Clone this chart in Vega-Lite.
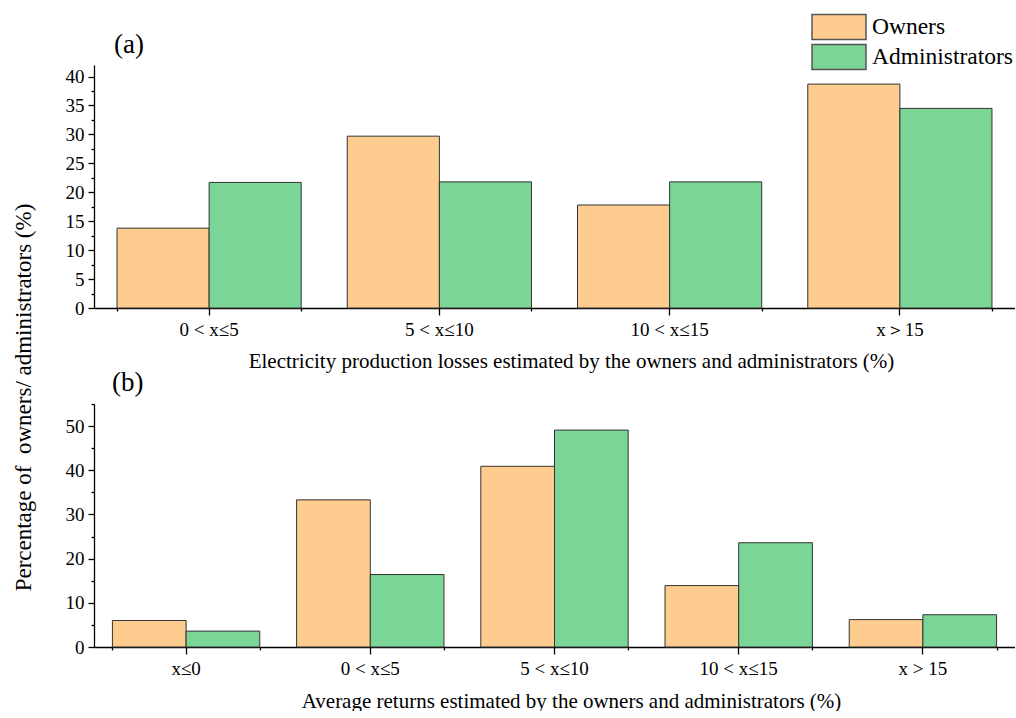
{
  "$schema": "https://vega.github.io/schema/vega-lite/v6.json",
  "background": "white",
  "padding": {"left": 12, "top": 12, "right": 0, "bottom": 0},
  "bounds": "flush",
  "spacing": 96,
  "config": {"view": {"stroke": null}, "font": "Liberation Serif"},
  "resolve": {"scale": {"xOffset": "independent", "x": "independent", "y": "independent"}},
  "vconcat": [
    {
      "width": 921,
      "height": 243,
      "title": {"text": "(a)", "anchor": "start", "frame": "group", "dx": 20, "offset": 6, "fontSize": 27, "font": "Liberation Serif", "fontWeight": "normal", "color": "#000"},
      "data": {"values": [
        {"range": "0 < x≤5", "group": "Owners", "value": 13.8},
        {"range": "0 < x≤5", "group": "Administrators", "value": 21.7},
        {"range": "5 < x≤10", "group": "Owners", "value": 29.7},
        {"range": "5 < x≤10", "group": "Administrators", "value": 21.8},
        {"range": "10 < x≤15", "group": "Owners", "value": 17.8},
        {"range": "10 < x≤15", "group": "Administrators", "value": 21.8},
        {"range": "x＞15", "group": "Owners", "value": 38.7},
        {"range": "x＞15", "group": "Administrators", "value": 34.5}
      ]},
      "layer": [
        {
          "mark": {"type": "bar", "stroke": "#333", "strokeWidth": 1},
          "encoding": {
            "x": {"field": "range", "type": "nominal", "sort": ["0 < x≤5", "5 < x≤10", "10 < x≤15", "x＞15"],
              "scale": {"paddingInner": 0.2, "paddingOuter": 0.1},
              "axis": {"title": "Electricity production losses estimated by the owners and administrators (%)", "labelAngle": 0, "tickSize": 7, "tickColor": "#000", "tickWidth": 1.3, "domainColor": "#000", "domainWidth": 1.3, "labelFont": "Liberation Serif", "labelFontSize": 19, "labelColor": "#000", "labelPadding": 5, "titleFont": "Liberation Serif", "titleFontSize": 21, "titleFontWeight": "normal", "titleColor": "#000", "titleX": 477, "titleY": 59, "titleBaseline": "alphabetic", "titleAlign": "center"}},
            "xOffset": {"field": "group", "type": "nominal", "sort": ["Owners", "Administrators"]},
            "y": {"field": "value", "type": "quantitative", "scale": {"domain": [0, 42], "nice": false},
              "axis": {"values": [0, 2.5, 5, 7.5, 10, 12.5, 15, 17.5, 20, 22.5, 25, 27.5, 30, 32.5, 35, 37.5, 40], "labelExpr": "datum.value % 5 === 0 ? datum.label : ''", "tickSize": {"condition": {"test": "datum.value % 5 === 0", "value": 6}, "value": 3}, "grid": false, "domainColor": "#000", "domainWidth": 1.3, "tickColor": "#000", "tickWidth": 1.3, "labelFont": "Liberation Serif", "labelFontSize": 19, "labelColor": "#000", "labelPadding": 4,
                "title": "Percentage of \u00a0owners/ administrators (%)", "titleFont": "Liberation Serif", "titleFontSize": 23, "titleFontWeight": "normal", "titleColor": "#000", "titleAngle": -90, "titleX": -64, "titleY": 332, "titleAlign": "center", "titleBaseline": "alphabetic"}},
            "color": {"field": "group", "type": "nominal", "sort": ["Owners", "Administrators"],
              "scale": {"domain": ["Owners", "Administrators"], "range": ["#FFCC90", "#7AD596"]},
              "legend": {"orient": "none", "legendX": 730.5, "legendY": -52.5, "title": null, "padding": 0, "symbolType": "M-2,-0.92L2,-0.92L2,0.92L-2,0.92Z", "symbolSize": 729, "symbolStrokeColor": "#555", "symbolStrokeWidth": 1.5, "symbolOpacity": 1, "labelFont": "Liberation Serif", "labelFontSize": 23.5, "labelColor": "#000", "labelOffset": 18.5, "rowPadding": -1}}
          }
        },
        {
          "mark": {"type": "bar", "opacity": 0},
          "encoding": {
            "x": {"field": "range", "type": "nominal", "sort": ["0 < x≤5", "5 < x≤10", "10 < x≤15", "x＞15"],
              "axis": {"orient": "bottom", "tickBand": "extent", "labels": false, "domain": false, "title": null, "tickSize": 3, "tickColor": "#000", "tickWidth": 1.3}}
          }
        }
      ],
      "resolve": {"axis": {"x": "independent"}}
    },
    {
      "width": 921,
      "height": 243,
      "title": {"text": "(b)", "anchor": "start", "frame": "group", "dx": 18, "offset": 6, "fontSize": 27, "font": "Liberation Serif", "fontWeight": "normal", "color": "#000"},
      "data": {"values": [
        {"range": "x≤0", "group": "Owners", "value": 6.0},
        {"range": "x≤0", "group": "Administrators", "value": 3.6},
        {"range": "0 < x≤5", "group": "Owners", "value": 33.3},
        {"range": "0 < x≤5", "group": "Administrators", "value": 16.4},
        {"range": "5 < x≤10", "group": "Owners", "value": 40.9},
        {"range": "5 < x≤10", "group": "Administrators", "value": 49.1},
        {"range": "10 < x≤15", "group": "Owners", "value": 13.9},
        {"range": "10 < x≤15", "group": "Administrators", "value": 23.6},
        {"range": "x > 15", "group": "Owners", "value": 6.2},
        {"range": "x > 15", "group": "Administrators", "value": 7.3}
      ]},
      "layer": [
        {
          "mark": {"type": "bar", "stroke": "#333", "strokeWidth": 1},
          "encoding": {
            "x": {"field": "range", "type": "nominal", "sort": ["x≤0", "0 < x≤5", "5 < x≤10", "10 < x≤15", "x > 15"],
              "scale": {"paddingInner": 0.2, "paddingOuter": 0.1},
              "axis": {"title": "Average returns estimated by the owners and administrators (%)", "labelAngle": 0, "tickSize": 7, "tickColor": "#000", "tickWidth": 1.3, "domainColor": "#000", "domainWidth": 1.3, "labelFont": "Liberation Serif", "labelFontSize": 19, "labelColor": "#000", "labelPadding": 5, "titleFont": "Liberation Serif", "titleFontSize": 21, "titleFontWeight": "normal", "titleColor": "#000", "titleX": 477, "titleY": 60, "titleBaseline": "alphabetic", "titleAlign": "center"}},
            "xOffset": {"field": "group", "type": "nominal", "sort": ["Owners", "Administrators"]},
            "y": {"field": "value", "type": "quantitative", "scale": {"domain": [0, 55], "nice": false},
              "axis": {"values": [0, 5, 10, 15, 20, 25, 30, 35, 40, 45, 50, 55], "labelExpr": "datum.value % 10 === 0 ? datum.label : ''", "tickSize": {"condition": {"test": "datum.value % 10 === 0", "value": 6}, "value": 3}, "grid": false, "domainColor": "#000", "domainWidth": 1.3, "tickColor": "#000", "tickWidth": 1.3, "labelFont": "Liberation Serif", "labelFontSize": 19, "labelColor": "#000", "labelPadding": 4, "title": null}},
            "color": {"field": "group", "type": "nominal", "sort": ["Owners", "Administrators"],
              "scale": {"domain": ["Owners", "Administrators"], "range": ["#FFCC90", "#7AD596"]},
              "legend": {"orient": "none", "legendX": 730.5, "legendY": -52.5, "title": null, "padding": 0, "symbolType": "M-2,-0.92L2,-0.92L2,0.92L-2,0.92Z", "symbolSize": 729, "symbolStrokeColor": "#555", "symbolStrokeWidth": 1.5, "symbolOpacity": 1, "labelFont": "Liberation Serif", "labelFontSize": 23.5, "labelColor": "#000", "labelOffset": 18.5, "rowPadding": -1}}
          }
        },
        {
          "mark": {"type": "bar", "opacity": 0},
          "encoding": {
            "x": {"field": "range", "type": "nominal", "sort": ["x≤0", "0 < x≤5", "5 < x≤10", "10 < x≤15", "x > 15"],
              "axis": {"orient": "bottom", "tickBand": "extent", "labels": false, "domain": false, "title": null, "tickSize": 3, "tickColor": "#000", "tickWidth": 1.3}}
          }
        }
      ],
      "resolve": {"axis": {"x": "independent"}}
    }
  ]
}
